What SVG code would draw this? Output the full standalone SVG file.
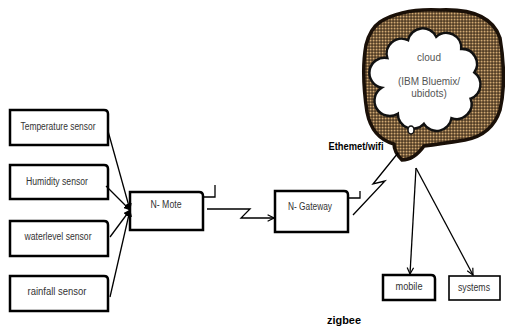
<svg xmlns="http://www.w3.org/2000/svg" width="505" height="329" viewBox="0 0 505 329">
<style>
.box{fill:#fff;stroke:#000;stroke-width:2.5;stroke-linejoin:miter}
.thin{fill:#fff;stroke:#000;stroke-width:1.6}
.lbl{font-family:"Liberation Sans",Arial,sans-serif;font-size:10px;fill:#333;text-anchor:middle}
.cl{font-family:"Liberation Sans",Arial,sans-serif;font-size:10px;fill:#555;text-anchor:middle}
.bold{font-family:"Liberation Sans",Arial,sans-serif;font-size:10.5px;font-weight:bold;fill:#000;text-anchor:middle}
.ln{fill:none;stroke:#000;stroke-width:1.3}
</style>
<defs>
<pattern id="half" width="3" height="3" patternUnits="userSpaceOnUse">
<rect width="3" height="3" fill="#2a1b0c"/>
<rect x="0.5" y="0.5" width="2.1" height="2.1" fill="#d2aa74"/>
</pattern>
<marker id="fill" viewBox="0 0 10 10" refX="9" refY="5" markerWidth="7" markerHeight="7" orient="auto" markerUnits="userSpaceOnUse">
<path d="M0 0 L10 5 L0 10 Z" fill="#000"/>
</marker>
<marker id="open" viewBox="0 0 10 10" refX="9" refY="5" markerWidth="8" markerHeight="8" orient="auto" markerUnits="userSpaceOnUse">
<path d="M1 1 L9 5 L1 9" fill="none" stroke="#000" stroke-width="1.5"/>
</marker>
</defs>
<rect width="505" height="329" fill="#fff"/>

<g id="cloud">
<path d="M380 22 Q402 8 440 10 Q490 8 500 38 Q507 80 500 110 Q492 135 465 140 Q440 144 424 146 Q414 160 402 160 Q394 152 394 144 Q372 138 367 112 Q361 72 366 45 Q370 29 380 22 Z" fill="url(#half)" stroke="#1a1008" stroke-width="3.5"/>
<path d="M387.3 58 A15 15 0 0 1 408.1 40.1 A15 15 0 0 1 436.2 36.7 A15 15 0 0 1 461.2 48.9 A15 15 0 0 1 474.3 72.4 A15 15 0 0 1 470.6 98.6 A15 15 0 0 1 451.5 118.1 A15 15 0 0 1 423.9 123.8 A15 15 0 0 1 397.8 113.7 A15 15 0 0 1 381.7 87.7 A15 15 0 0 1 387.3 58 Z" fill="#fff" stroke="#111" stroke-width="2.5"/>
<ellipse cx="411" cy="130" rx="3" ry="4" fill="#fff" stroke="#111" stroke-width="1.5"/>
<text class="cl" x="429" y="61">cloud</text>
<text class="cl" x="429" y="85">(IBM Bluemix/</text>
<text class="cl" x="429" y="97">ubidots)</text>
</g>

<g id="temperature">
<path class="box" d="M10 110 H104 Q108 110 108 114 V145 H10 Z"/>
<text class="lbl" x="58" y="130" textLength="75" lengthAdjust="spacingAndGlyphs">Temperature sensor</text>
</g>
<g id="humidity">
<path class="box" d="M10 165 H104 Q108 165 108 169 V199 H10 Z"/>
<text class="lbl" x="57" y="185" textLength="62" lengthAdjust="spacingAndGlyphs">Humidity sensor</text>
</g>
<g id="waterlevel">
<path class="box" d="M10 221 H104 Q108 221 108 225 V256 H10 Z"/>
<text class="lbl" x="58" y="240" textLength="67" lengthAdjust="spacingAndGlyphs">waterlevel sensor</text>
</g>
<g id="rainfall">
<path class="box" d="M10 276 H104 Q108 276 108 280 V311 H10 Z"/>
<text class="lbl" x="57" y="295" textLength="59" lengthAdjust="spacingAndGlyphs">rainfall sensor</text>
</g>

<g id="nmote">
<path class="box" d="M130 192 H199 Q203 192 203 196 V230 H130 Z"/>
<path class="ln" d="M203 197 H215 V185" stroke-width="1.6"/>
<text class="lbl" x="166" y="208" textLength="31" lengthAdjust="spacingAndGlyphs">N- Mote</text>
</g>

<g id="ngateway">
<path class="box" d="M275 191 H344 Q348 191 348 195 V232 H275 Z"/>
<path class="ln" d="M348 198 H360 V191" stroke-width="1.6"/>
<text class="lbl" x="310" y="210" textLength="44" lengthAdjust="spacingAndGlyphs">N- Gateway</text>
</g>

<g id="mobile">
<path class="box" d="M383 275 H431 Q435 275 435 279 V300 H383 Z"/>
<text class="lbl" x="409" y="290" textLength="27" lengthAdjust="spacingAndGlyphs">mobile</text>
</g>

<g id="systems">
<rect class="thin" x="449" y="276" width="51" height="24"/>
<text class="lbl" x="474" y="291" textLength="32" lengthAdjust="spacingAndGlyphs">systems</text>
</g>

<g id="connectors">
<path class="ln" d="M108 131 L130 210" marker-end="url(#fill)"/>
<path class="ln" d="M106 186 L130 210" marker-end="url(#fill)"/>
<path class="ln" d="M110 237 L130 210" marker-end="url(#fill)"/>
<path class="ln" d="M110 297 L130 210" marker-end="url(#fill)"/>
<path class="ln" d="M207 209 H250 L241 218 H274" marker-end="url(#open)"/>
<path class="ln" d="M353 215 L385 181 L373 184 L398 153"/>
<path class="ln" d="M416 168 L410 274" marker-end="url(#open)"/>
<path class="ln" d="M416 168 L473 275" marker-end="url(#open)"/>
</g>

<text class="bold" x="356" y="150" textLength="55" lengthAdjust="spacingAndGlyphs">Ethemet/wifi</text>
<text class="bold" x="344" y="324" textLength="34" lengthAdjust="spacingAndGlyphs">zigbee</text>
</svg>
